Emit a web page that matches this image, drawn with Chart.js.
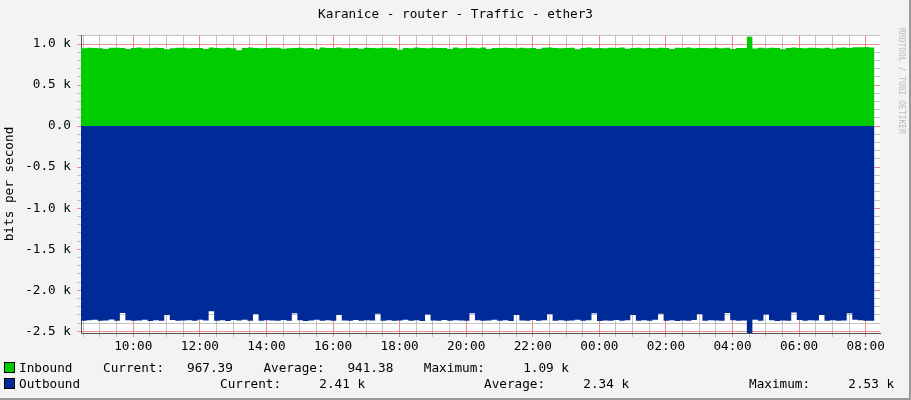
<!DOCTYPE html>
<html>
<head>
<meta charset="utf-8">
<script src="https://cdn.jsdelivr.net/npm/chart.js@4.4.1/dist/chart.umd.min.js"></script>
<style>
  body { margin: 0; background: #f3f3f3; }
  #wrap { position: relative; width: 911px; height: 400px; background: #f3f3f3; border-right: 2px solid #999; border-bottom: 2px solid #999; box-sizing: border-box; }
  #title { position: absolute; top: 6px; left: 0; width: 911px; text-align: center; font: 12.7px "DejaVu Sans Mono", monospace; color: #000; }
  .lg { position: absolute; font: 12.7px "DejaVu Sans Mono", monospace; color: #000; white-space: pre; }
  .sw { position: absolute; width: 9px; height: 9px; border: 1px solid #000; }
  #side { position: absolute; left: 897px; top: 28px; writing-mode: vertical-rl; font: 8px "DejaVu Sans Mono", monospace; color: #bbb; }
</style>
</head>
<body>
<div id="wrap">
  <canvas id="c" width="911" height="400"></canvas>
  <div id="title">Karanice - router - Traffic - ether3</div>
  <div id="side">RRDTOOL / TOBI OETIKER</div>
  <div class="sw" style="left:4px;top:362px;background:#00cc00"></div>
  <div class="lg" style="left:19px;top:360px">Inbound    Current:   967.39    Average:   941.38    Maximum:     1.09 k</div>
  <div class="sw" style="left:4px;top:378px;background:#002a97"></div>
  <div class="lg" style="left:19px;top:376px">Outbound</div>
  <div class="lg" style="left:220px;top:376px">Current:     2.41 k</div>
  <div class="lg" style="left:484px;top:376px">Average:     2.34 k</div>
  <div class="lg" style="left:749px;top:376px">Maximum:     2.53 k</div>
</div>
<script>
// time axis: hours of day, one sample every 10 minutes from 08:26
const startHour = 8.43;
const stepHour = 1 / 6;
const tickHours = [10, 12, 14, 16, 18, 20, 22, 24, 26, 28, 30, 32];

const inbound = [
  950,955,952,948,940,954,956,951,938,953,957,950,949,955,952,935,950,956,954,948,
  953,951,940,957,952,949,955,950,925,952,958,953,948,951,954,956,942,950,953,955,
  949,952,936,957,951,953,958,948,950,952,941,955,952,949,954,956,951,930,953,950,
  958,952,948,955,951,953,940,957,950,952,954,949,958,938,953,951,955,952,948,956,
  950,953,940,954,958,951,949,952,955,937,953,957,950,952,948,954,951,958,941,952,
  955,949,953,950,956,952,938,954,951,958,949,953,952,948,955,950,956,940,953,951,
  1090,947,954,950,956,952,936,953,958,951,949,955,952,950,956,941,954,958,951,960,
  962,964,958,966
];
const outbound = [
  -2370,-2365,-2360,-2372,-2368,-2355,-2370,-2275,-2365,-2372,-2368,-2360,-2374,-2366,-2370,-2300,-2362,-2371,-2368,-2365,
  -2372,-2360,-2368,-2255,-2370,-2366,-2373,-2362,-2368,-2360,-2370,-2290,-2372,-2365,-2368,-2371,-2362,-2370,-2280,-2366,
  -2373,-2368,-2360,-2370,-2364,-2372,-2300,-2368,-2370,-2362,-2371,-2366,-2368,-2285,-2370,-2364,-2372,-2368,-2360,-2370,
  -2366,-2373,-2295,-2368,-2370,-2362,-2371,-2366,-2368,-2370,-2278,-2364,-2372,-2368,-2360,-2370,-2366,-2373,-2300,-2368,
  -2370,-2362,-2371,-2366,-2290,-2370,-2364,-2372,-2368,-2360,-2370,-2366,-2280,-2373,-2368,-2370,-2362,-2371,-2366,-2300,
  -2370,-2364,-2372,-2360,-2285,-2370,-2366,-2373,-2368,-2370,-2362,-2290,-2371,-2366,-2368,-2370,-2275,-2364,-2372,-2368,
  -2530,-2360,-2370,-2295,-2366,-2373,-2368,-2370,-2270,-2362,-2371,-2366,-2368,-2300,-2370,-2364,-2372,-2368,-2280,-2360,
  -2366,-2370,-2372,-2395
];
const yTicks = [-2500, -2000, -1500, -1000, -500, 0, 500, 1000];

const times = inbound.map((_, i) => startHour + i * stepHour);
const toPts = arr => arr.map((v, i) => ({ x: times[i], y: v }));
const endHour = startHour + 24;

const hourLabel = h => String(Math.round(h) % 24).padStart(2, "0") + ":00";

new Chart(document.getElementById("c"), {
  type: "line",
  data: {
    datasets: [
      { data: toPts(inbound), borderWidth: 0, backgroundColor: "#00cc00", fill: "origin", stepped: true, pointRadius: 0 },
      { data: toPts(outbound), borderWidth: 0, backgroundColor: "#002a97", fill: "origin", stepped: true, pointRadius: 0 }
    ]
  },
  options: {
    responsive: false,
    animation: false,
    layout: { padding: { top: 35, right: 31, left: 0, bottom: 0 } },
    plugins: { legend: { display: false }, tooltip: { enabled: false } },
    scales: {
      x: {
        type: "linear",
        min: startHour,
        max: endHour,
        afterFit: s => { s.height = 67; },
        afterBuildTicks: s => {
          const t = [];
          for (let h = 8.5; h < endHour; h += 0.5) t.push({ value: h });
          s.ticks = t;
        },
        ticks: {
          autoSkip: false, maxRotation: 0, padding: 2,
          color: "#000", font: { family: "DejaVu Sans Mono", size: 12.7 },
          callback: v => tickHours.includes(v) ? hourLabel(v) : ""
        },
        grid: {
          color: c => tickHours.includes(c.tick.value) ? "rgba(230,110,110,0.8)" : "rgba(170,170,170,0.7)",
          tickLength: 4,
          lineWidth: 1
        },
        border: { color: "#555", dash: [] }
      },
      y: {
        min: -2520,
        max: 1110,
        afterFit: s => { s.width = 81; },
        afterBuildTicks: s => {
          const t = [];
          for (let v = -2500; v <= 1100; v += 100) t.push({ value: v });
          s.ticks = t;
        },
        title: { display: true, text: "bits per second", color: "#000", font: { family: "DejaVu Sans Mono", size: 12.7 }, padding: 2 },
        ticks: {
          autoSkip: false, padding: 6,
          color: "#000", font: { family: "DejaVu Sans Mono", size: 12.7 },
          callback: v => yTicks.includes(v) ? (v === 0 ? "0.0" : (v / 1000).toFixed(1) + " k") : ""
        },
        grid: {
          color: c => yTicks.includes(c.tick.value) ? "rgba(230,110,110,0.8)" : "rgba(170,170,170,0.7)",
          tickLength: 4
        },
        border: { color: "#555" }
      }
    }
  },
  plugins: [{
    id: "plotBg",
    beforeDraw: ch => {
      const a = ch.chartArea, g = ch.ctx;
      g.save(); g.fillStyle = "#fff"; g.fillRect(a.left, a.top, a.right - a.left, a.bottom - a.top); g.restore();
    }
  }]
});
</script>
</body>
</html>
